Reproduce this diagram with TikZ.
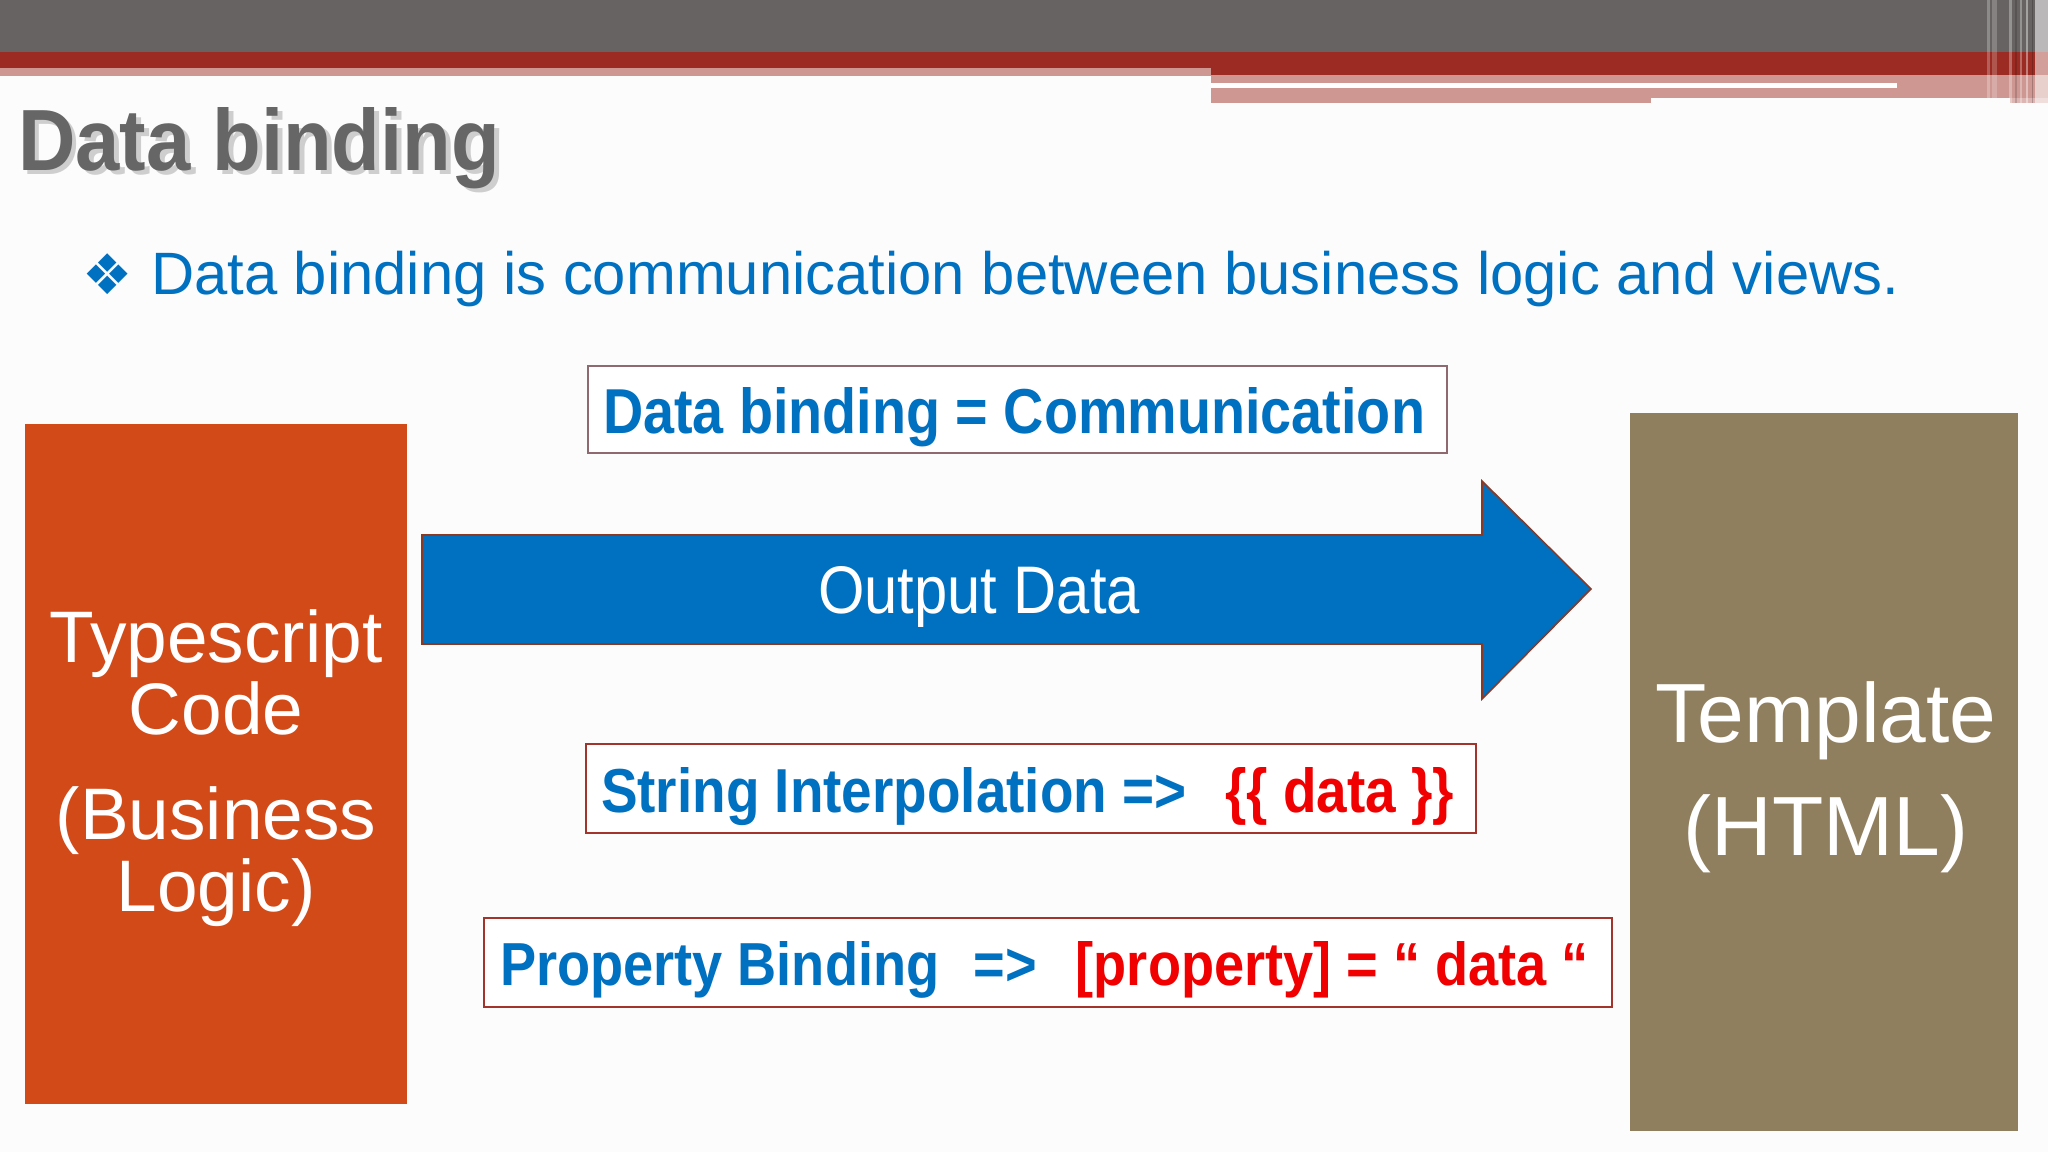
\documentclass[tikz,border=0pt]{standalone}
\usepackage{fontspec}
\setmainfont{Liberation Sans}
\newfontfamily\djv{DejaVu Sans}
\usepackage{graphicx}
\definecolor{topgray}{HTML}{686363}
\definecolor{topred}{HTML}{9C2C23}
\definecolor{toppink}{HTML}{CE9792}
\definecolor{titlegray}{HTML}{666666}
\definecolor{txtblue}{HTML}{0070C0}
\definecolor{txtred}{HTML}{F00000}
\definecolor{codeorange}{HTML}{D34A19}
\definecolor{tmplbrown}{HTML}{907F5F}
\definecolor{edgemauve}{HTML}{8E6A70}
\definecolor{edgered}{HTML}{A3342B}
\definecolor{arrowedge}{HTML}{8A3A24}
\begin{document}
\begin{tikzpicture}[x=1pt,y=-1pt,
  txt/.style={inner sep=0pt, outer sep=0pt},
  panel/.style={inner sep=0pt, outer sep=0pt},
  tagbox/.style={panel, draw, line width=2pt, fill=white},
  whitetxt/.style={txt, text=white, anchor=base, font=\fontsize{73}{73}\selectfont},
  tmpltxt/.style={txt, text=white, anchor=base, font=\fontsize{84}{84}\selectfont}]
\useasboundingbox (0,0) rectangle (2048,1152);
\fill[white!99!black] (0,0) rectangle (2048,1152);
% ---- top band ----
\fill[topgray] (0,0) rectangle (2048,52);
\fill[topred] (0,52) rectangle (2048,68);
\fill[topred] (1211,52) rectangle (2048,75);
\fill[toppink] (0,68) rectangle (1211,76);
\fill[toppink] (1211,75) rectangle (2048,98);
\fill[toppink] (1211,98) rectangle (1651,103);
\fill[toppink!70!white] (2010,98) rectangle (2048,103);
\fill[white] (1211,83) rectangle (1897,88);
% stripes at the top right
\fill[white, opacity=.25] (1987,0) rectangle (1990,103);
\fill[white, opacity=.2] (1992,0) rectangle (1997,103);
\fill[white, opacity=.3] (2009,0) rectangle (2012,103);
\fill[black, opacity=.15] (2015,0) rectangle (2017,103);
\fill[white, opacity=.3] (2020,0) rectangle (2022,103);
\fill[white, opacity=.4] (2026,0) rectangle (2028,103);
\fill[black, opacity=.2] (2032,0) rectangle (2033,103);
\fill[white, opacity=.55] (2035,0) rectangle (2048,103);
% ---- title ----
\node[txt, anchor=base west, text=black, opacity=.18] (titleshadow) at (23,174)
  {\fontsize{80}{80}\selectfont\resizebox{482pt}{63pt}{\bfseries Data binding}};
\node[txt, anchor=base west, text=titlegray] (title) at (18,170)
  {\fontsize{80}{80}\selectfont\resizebox{482pt}{63pt}{\bfseries Data binding}};
% ---- bullet ----
\node[txt, anchor=base west, text=txtblue] (diamond) at (82,294)
  {\djv\fontsize{56}{56}\selectfont ❖};
\node[txt, anchor=base west, text=txtblue] (bullet) at (151,294)
  {\fontsize{59.8}{60}\selectfont Data binding is communication between business logic and views.};
% ---- side panels ----
\node[panel, fill=codeorange, minimum width=382pt, minimum height=680pt] (code) at (216,764) {};
\node[panel, fill=tmplbrown, minimum width=388pt, minimum height=718pt] (tmpl) at (1824,772) {};
\node[whitetxt] (code1) at (216,662) {Typescript};
\node[whitetxt] (code2) at (216,734) {Code};
\node[whitetxt] (code3) at (216,839) {(Business};
\node[whitetxt] (code4) at (216,911) {Logic)};
\node[tmpltxt] (tmpl1) at (1826,742) {Template};
\node[tmpltxt] (tmpl2) at (1826,855) {(HTML)};
% ---- top label ----
\node[tagbox, draw=edgemauve, minimum width=859pt, minimum height=87pt] (dbbox) at (1017.5,409.5) {};
\node[txt, anchor=base west, text=txtblue] (dbtxt) at (603,433)
  {\fontsize{62}{62}\selectfont\resizebox{822pt}{46pt}{\bfseries Data binding = Communication}};
% ---- arrow ----
\coordinate (a1) at (422,535);
\coordinate (a2) at (1482,535);
\coordinate (a3) at (1482,481);
\coordinate (tip) at (1591,589);
\coordinate (a5) at (1482,699);
\coordinate (a6) at (1482,644);
\coordinate (a7) at (422,644);
\draw[fill=txtblue, draw=arrowedge, line width=1.6pt, line join=miter]
  (a1) -- (a2) -- (a3) -- (tip) -- (a5) -- (a6) -- (a7) -- cycle;
\node[txt, anchor=base west, text=white] (outtxt) at (818,613)
  {\fontsize{64}{64}\selectfont\resizebox{322pt}{47pt}{Output Data}};
% ---- string interpolation ----
\node[tagbox, draw=edgered, minimum width=890pt, minimum height=89pt] (sibox) at (1031,788.5) {};
\node[txt, anchor=base west, text=txtblue] (sitxt) at (601,812)
  {\fontsize{61}{61}\selectfont\resizebox{853pt}{45pt}{\bfseries String Interpolation =>\hspace*{0.7em}\textcolor{txtred}{\{\{ data \}\}}}};
% ---- property binding ----
\node[tagbox, draw=edgered, minimum width=1128pt, minimum height=89pt] (pbbox) at (1048,962.5) {};
\node[txt, anchor=base west, text=txtblue] (pbtxt) at (500,985)
  {\fontsize{60}{60}\selectfont\resizebox{1089pt}{44pt}{\bfseries Property Binding\hspace*{0.63em}=>\hspace*{0.72em}\textcolor{txtred}{[property] = “ data “}}};
\end{tikzpicture}
\end{document}
